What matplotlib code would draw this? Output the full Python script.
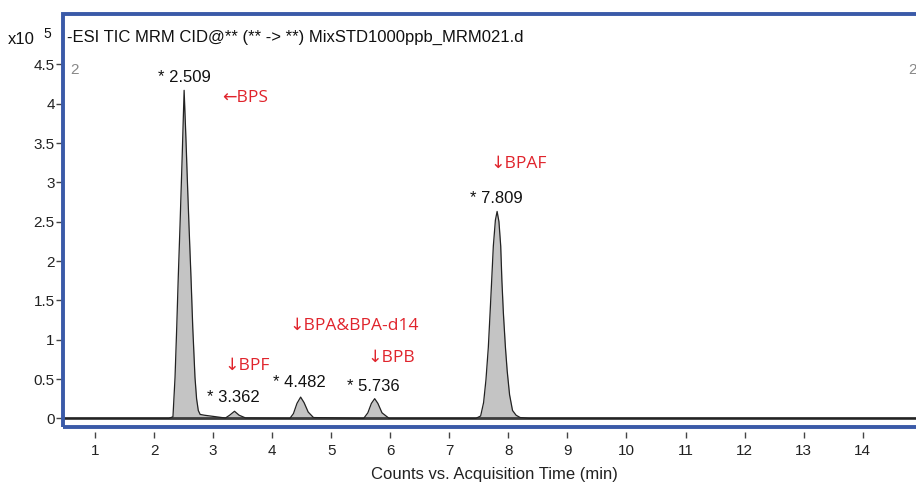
import matplotlib
matplotlib.use('Agg')
import matplotlib.pyplot as plt
from matplotlib.patches import Rectangle

# TIC trace (time in min, counts in 1e5)
time = [0.46, 2.25, 2.32, 2.355, 2.384, 2.41, 2.439, 2.475, 2.509, 2.54, 2.565,
        2.592, 2.625, 2.655, 2.693, 2.72, 2.749, 2.78, 2.85, 2.95, 3.05, 3.15,
        3.21, 3.28, 3.362, 3.44, 3.55, 4.30, 4.36, 4.42, 4.482, 4.54, 4.61, 4.70,
        5.55, 5.62, 5.68, 5.736, 5.79, 5.86, 5.98, 7.45, 7.53, 7.58, 7.62, 7.66,
        7.69, 7.72, 7.745, 7.78, 7.809, 7.84, 7.87, 7.89, 7.915, 7.95, 7.98, 8.02,
        8.07, 8.13, 8.20, 8.35, 15.0]
counts = [0, 0, 0.02, 0.52, 1.16, 1.8, 2.44, 3.3, 4.17, 3.55, 3.0,
          2.44, 1.8, 1.16, 0.52, 0.25, 0.1, 0.05, 0.04, 0.03, 0.02, 0.01,
          0.005, 0.04, 0.09, 0.04, 0.005, 0, 0.06, 0.19, 0.27, 0.2, 0.08, 0.01,
          0, 0.07, 0.19, 0.25, 0.19, 0.07, 0, 0, 0.03, 0.2, 0.49, 0.9,
          1.34, 1.8, 2.19, 2.52, 2.63, 2.5, 2.19, 1.75, 1.34, 0.9, 0.6, 0.3,
          0.1, 0.04, 0.01, 0, 0]

peak_times = [2.509, 3.362, 4.482, 5.736, 7.809]
label_x = [2.51, 3.34, 4.455, 5.71, 7.79]
label_y = [4.33, 0.26, 0.45, 0.40, 2.79]

compounds = ['\u2190BPS', '\u2193BPF', '\u2193BPA&BPA-d14', '\u2193BPB', '\u2193BPAF']
comp_x = [3.15, 3.20, 4.30, 5.62, 7.69]
comp_y = [4.07, 0.665, 1.18, 0.77, 3.24]

yticks = [0, 0.5, 1, 1.5, 2, 2.5, 3, 3.5, 4, 4.5]
ylabels = ['0', '0.5', '1', '1.5', '2', '2.5', '3', '3.5', '4', '4.5']
xticks = list(range(1, 15))

plt.rcParams['font.family'] = ['Liberation Sans', 'DejaVu Sans']

fig = plt.figure(figsize=(9.16, 4.84), dpi=100)
W, H = 916, 484
ax = fig.add_axes([63 / W, (H - 427) / H, (920 - 63) / W, (427 - 14) / H])

ax.fill_between(time, counts, 0, color='#c4c4c4', lw=0)
ax.axhline(0, color='#3c3c3c', lw=2)
ax.plot(time, counts, color='#222222', lw=0.9)

ax.set_xlim(0.458, 14.97)
ax.set_ylim(-0.11, 5.14)

for s in ax.spines.values():
    s.set_visible(False)
ax.spines['bottom'].set_position(('outward', 3.5))
ax.add_patch(Rectangle((0, 0), 1, 1, transform=ax.transAxes, fill=False,
                       edgecolor='#3a5aa8', lw=2.8, clip_on=False, zorder=5))

ax.set_xticks(xticks)
ax.set_xticklabels([str(v) for v in xticks])
ax.set_yticks(yticks)
ax.set_yticklabels(ylabels)
ax.tick_params(axis='x', length=4, width=1, color='#444444', pad=5,
               labelsize=11, labelcolor='#222222')
ax.tick_params(axis='y', length=5, width=1, color='#444444', pad=1,
               labelsize=11, labelcolor='#222222')

ax.text(0.005, 0.944, '-ESI TIC MRM CID@** (** -> **) MixSTD1000ppb_MRM021.d',
        transform=ax.transAxes, fontsize=12, color='#111111', va='center')
ax.text(0.009, 0.864, '2', transform=ax.transAxes, fontsize=11,
        color='#888888', va='center')
fig.text(908 / W, 1 - 70 / H, '2', fontsize=11, color='#888888', va='center')

for px, py, pt in zip(label_x, label_y, peak_times):
    ax.text(px, py, '* %.3f' % pt, ha='center', va='center', fontsize=12,
            color='#111111')

for cx, cy, name in zip(comp_x, comp_y, compounds):
    ax.text(cx, cy, name, ha='left', va='center', fontsize=12.5,
            color='#e0242c', family=['Open Sans', 'DejaVu Sans'])

fig.text(8 / W, 1 - 40 / H, 'x10', fontsize=12, color='#111111', va='center')
fig.text(43 / W, 1 - 34 / H, '5', fontsize=10, color='#111111', va='center')
fig.text(494 / W, 1 - 474 / H, 'Counts vs. Acquisition Time (min)',
         ha='center', va='center', fontsize=12, color='#222222')

plt.savefig('out.png', dpi=100)
